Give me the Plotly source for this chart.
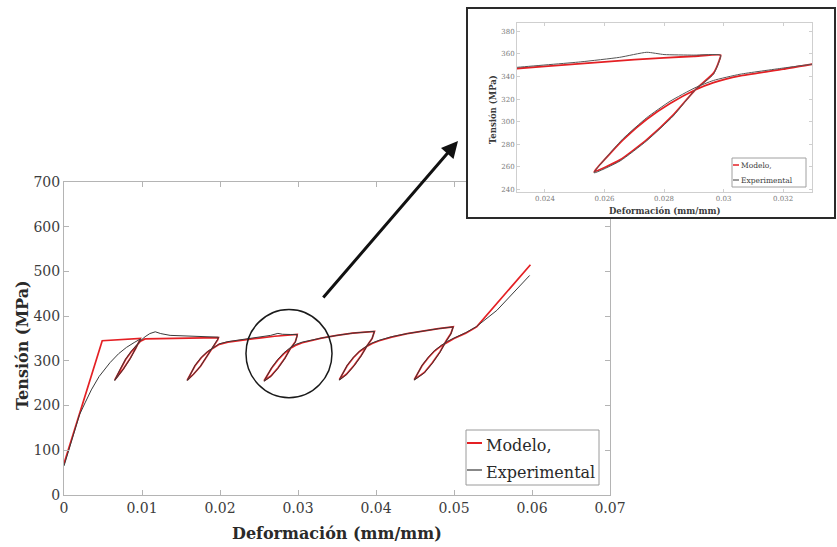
import plotly.graph_objects as go

W, H = 837, 547

# ---------------- data ----------------
model_x = [0, 0.0049, 0.0098,
           0.0097, 0.0092, 0.0085, 0.0076, 0.0065,
           0.0072, 0.0079, 0.0086, 0.0092, 0.0098, 0.0104, 0.0150, 0.0198,
           0.0197, 0.0192, 0.0184, 0.0175, 0.0166, 0.0158,
           0.0168, 0.0176, 0.0184, 0.0192, 0.0199, 0.0210, 0.0230, 0.0250, 0.0270, 0.0290, 0.0299,
           0.02986, 0.02966, 0.02904, 0.02831, 0.02742, 0.02652, 0.02565,
           0.0262, 0.02663, 0.02742, 0.0282, 0.02904, 0.02966, 0.03055, 0.0320, 0.0330, 0.0350, 0.0370, 0.0398,
           0.0397, 0.0395, 0.0389, 0.0381, 0.0372, 0.0362, 0.0353,
           0.0363, 0.0371, 0.0379, 0.0388, 0.0395, 0.0404, 0.0420, 0.0440, 0.0460, 0.0480, 0.0499,
           0.0498, 0.0496, 0.0490, 0.0482, 0.0472, 0.0462, 0.0449,
           0.0459, 0.0467, 0.0475, 0.0484, 0.0492, 0.0500, 0.0515, 0.0529, 0.0598]
model_y = [70, 345, 350,
           346, 328, 306, 282, 257,
           280, 303, 320, 333, 344, 349, 351, 352,
           347, 334, 312, 288, 270, 257,
           289, 307, 320, 330, 337, 342, 347, 351, 355, 358, 359,
           354.7, 343, 328, 306, 284, 266, 255.5,
           272, 284, 302, 316, 328, 334.5, 340.5, 346.5, 351, 357, 362, 366,
           361, 350, 335, 312, 290, 270, 258,
           289, 307, 321, 332, 339, 345, 353, 361, 367, 372, 376,
           372, 361, 345, 320, 295, 274, 258,
           289, 307, 322, 334, 343, 350, 362, 376, 515]

exp_x = [0, 0.001, 0.002, 0.0027, 0.0035, 0.0045, 0.0059, 0.007, 0.008, 0.009, 0.0098,
         0.0097, 0.0092, 0.0085, 0.0076, 0.0065,
         0.0072, 0.0079, 0.0086, 0.0092, 0.0098, 0.0104, 0.0110, 0.0117, 0.0124, 0.0136, 0.0166, 0.0190, 0.0198,
         0.0197, 0.0192, 0.0184, 0.0175, 0.0166, 0.0158,
         0.0168, 0.0176, 0.0184, 0.0192, 0.0199, 0.0210, 0.0230, 0.0252, 0.0265, 0.02742, 0.0280, 0.0290, 0.0299,
         0.02986, 0.02966, 0.02904, 0.02831, 0.02742, 0.02652, 0.02565,
         0.0262, 0.02663, 0.02742, 0.0282, 0.02904, 0.02966, 0.03055, 0.0320, 0.0330, 0.0350, 0.0370, 0.0398,
         0.0397, 0.0395, 0.0389, 0.0381, 0.0372, 0.0362, 0.0353,
         0.0363, 0.0371, 0.0379, 0.0388, 0.0395, 0.0404, 0.0420, 0.0440, 0.0460, 0.0480, 0.0499,
         0.0498, 0.0496, 0.0490, 0.0482, 0.0472, 0.0462, 0.0449,
         0.0459, 0.0467, 0.0475, 0.0484, 0.0492, 0.0500, 0.0515, 0.0529, 0.0555, 0.0597]
exp_y = [65, 125, 180, 206, 235, 265, 296, 316, 330, 341, 349,
         345, 327, 305, 281, 256,
         281, 304, 321, 334, 345, 354, 361, 365, 361, 357, 355, 354, 353,
         348, 335, 312, 288, 270, 256,
         290, 308, 321, 331, 338, 343, 348, 353, 357, 361.5, 359.5, 359, 359,
         354, 342, 328, 305, 283, 265, 254.5,
         272.5, 285, 303.5, 318, 330, 336.5, 342, 347.5, 351, 357, 362, 366,
         361, 350, 335, 311, 289, 269, 257,
         290, 308, 322, 333, 340, 346, 354, 361, 367, 372, 376,
         371, 360, 344, 319, 294, 273, 257,
         290, 308, 323, 335, 344, 351, 363, 377, 413, 491]

x_ticks = [0, 0.01, 0.02, 0.03, 0.04, 0.05, 0.06, 0.07]
x_labels = ["0", "0.01", "0.02", "0.03", "0.04", "0.05", "0.06", "0.07"]
y_ticks = [0, 100, 200, 300, 400, 500, 600, 700]
inset_x_ticks = [0.024, 0.026, 0.028, 0.03, 0.032]
inset_x_labels = ["0.024", "0.026", "0.028", "0.03", "0.032"]
inset_y_ticks = [240, 260, 280, 300, 320, 340, 360, 380]

series_names = ["Modelo,", "Experimental"]
x_title = "Deformación (mm/mm)"
y_title = "Tensión (MPa)"

RED = "rgb(228,32,36)"
DARK = "#3a3a3a"
SERIF = "DejaVu Serif"


def px(x):
    return x / W


def py(y):
    return 1 - y / H


fig = go.Figure()

# main traces
fig.add_trace(go.Scatter(x=model_x, y=model_y, mode="lines", line=dict(color=RED, width=1.7),
                         xaxis="x", yaxis="y", showlegend=False, hoverinfo="skip"))
fig.add_trace(go.Scatter(x=exp_x, y=exp_y, mode="lines", line=dict(color=DARK, width=1),
                         xaxis="x", yaxis="y", showlegend=False, hoverinfo="skip"))

# white cover panel for the inset
fig.add_trace(go.Scatter(x=[0, 1, 1, 0, 0], y=[0, 0, 1, 1, 0], mode="lines", fill="toself",
                         fillcolor="white", line=dict(width=0, color="white"),
                         xaxis="x2", yaxis="y2", showlegend=False, hoverinfo="skip"))

# inset traces
fig.add_trace(go.Scatter(x=model_x, y=model_y, mode="lines", line=dict(color=RED, width=1.8, shape="spline", smoothing=0.5),
                         xaxis="x3", yaxis="y3", showlegend=False, hoverinfo="skip"))
fig.add_trace(go.Scatter(x=exp_x, y=exp_y, mode="lines", line=dict(color="#555", width=1, shape="spline", smoothing=0.5),
                         xaxis="x3", yaxis="y3", showlegend=False, hoverinfo="skip"))

main_axis = dict(showline=True, linecolor="#b4b4b4", linewidth=1, mirror="ticks",
                 ticks="inside", ticklen=5, tickcolor="#b4b4b4", showgrid=False, zeroline=False,
                 tickfont=dict(family=SERIF, size=14, color="#3c3c3c"))
inset_axis = dict(showline=True, linecolor="#cfcfcf", linewidth=1, mirror="ticks",
                  ticks="inside", ticklen=3, tickcolor="#cfcfcf", showgrid=False, zeroline=False,
                  tickfont=dict(family=SERIF, size=7, color="#7a7a7a"))

fig.update_layout(
    width=W, height=H, margin=dict(l=0, r=0, t=0, b=0),
    paper_bgcolor="white", plot_bgcolor="white", template="none", showlegend=False,
    xaxis=dict(domain=[px(64), px(610)], range=[0, 0.07], tickvals=x_ticks, ticktext=x_labels,
               anchor="y", **main_axis),
    yaxis=dict(domain=[py(495), py(182)], range=[0, 700], tickvals=y_ticks, anchor="x",
               **main_axis),
    xaxis2=dict(domain=[px(467), px(835)], range=[0, 1], visible=False, anchor="y2"),
    yaxis2=dict(domain=[py(218), py(8)], range=[0, 1], visible=False, anchor="x2"),
    xaxis3=dict(domain=[px(517), px(812)], range=[0.02306, 0.03297], tickvals=inset_x_ticks,
                ticktext=inset_x_labels, anchor="y3", **inset_axis),
    yaxis3=dict(domain=[py(192), py(23)], range=[237.5, 387.5], tickvals=inset_y_ticks,
                anchor="x3", **inset_axis),
)

shapes = []
# inset frame
shapes.append(dict(type="rect", xref="paper", yref="paper", x0=px(467), x1=px(835), y0=py(218), y1=py(8),
                   line=dict(color="#2a2a2a", width=2), fillcolor="rgba(0,0,0,0)", layer="above"))
# circle highlight
shapes.append(dict(type="circle", xref="x", yref="y", x0=0.02333, x1=0.03436, y0=217.6, y1=415,
                   line=dict(color="#1a1a1a", width=1.5), layer="above"))
# main legend box and samples
shapes.append(dict(type="rect", xref="paper", yref="paper", x0=px(466), x1=px(599), y0=py(485), y1=py(430),
                   line=dict(color="#9a9a9a", width=1), fillcolor="white", layer="above"))
shapes.append(dict(type="line", xref="paper", yref="paper", x0=px(467), x1=px(482), y0=py(443), y1=py(443),
                   line=dict(color=RED, width=2), layer="above"))
shapes.append(dict(type="line", xref="paper", yref="paper", x0=px(467), x1=px(482), y0=py(470), y1=py(470),
                   line=dict(color=DARK, width=1.2), layer="above"))
# inset legend box and samples
shapes.append(dict(type="rect", xref="paper", yref="paper", x0=px(732), x1=px(806), y0=py(187), y1=py(158),
                   line=dict(color="#a0a0a0", width=1), fillcolor="white", layer="above"))
shapes.append(dict(type="line", xref="paper", yref="paper", x0=px(733), x1=px(739), y0=py(165), y1=py(165),
                   line=dict(color=RED, width=1.5), layer="above"))
shapes.append(dict(type="line", xref="paper", yref="paper", x0=px(733), x1=px(739), y0=py(180), y1=py(180),
                   line=dict(color=DARK, width=1), layer="above"))
fig.update_layout(shapes=shapes)


def text(t, x, y, size, color="#2a2a2a", xanchor="center", angle=0):
    return dict(text=t, xref="paper", yref="paper", x=px(x), y=py(y), xanchor=xanchor,
                yanchor="middle", showarrow=False, textangle=angle,
                font=dict(family=SERIF, size=size, color=color))


ann = []
# axis titles main
ann.append(text(f"<b>{x_title}</b>", 337, 533, 16))
ann.append(text(f"<b>{y_title}</b>", 22, 345, 16, angle=-90))
# inset titles
ann.append(text(f"<b>{x_title}</b>", 664, 211, 8.5, color="#3a3a3a"))
ann.append(text(f"<b>{y_title}</b>", 493, 110, 8.5, color="#3a3a3a", angle=-90))
# main legend texts
ann.append(text(series_names[0], 484, 445, 16, xanchor="left"))
ann.append(text(series_names[1], 484, 472, 16, xanchor="left"))
# inset legend texts
ann.append(text(series_names[0], 739, 165.5, 7.5, color="#3a3a3a", xanchor="left"))
ann.append(text(series_names[1], 739, 180, 7.5, color="#3a3a3a", xanchor="left"))
# arrow
ann.append(dict(text="", xref="paper", yref="paper", x=px(458), y=py(141), ax=322 - 458, ay=299 - 141,
                axref="pixel", ayref="pixel", showarrow=True, arrowhead=2, arrowsize=1.1,
                arrowwidth=3, arrowcolor="#111"))
fig.update_layout(annotations=ann)

fig.write_html("out.html")
